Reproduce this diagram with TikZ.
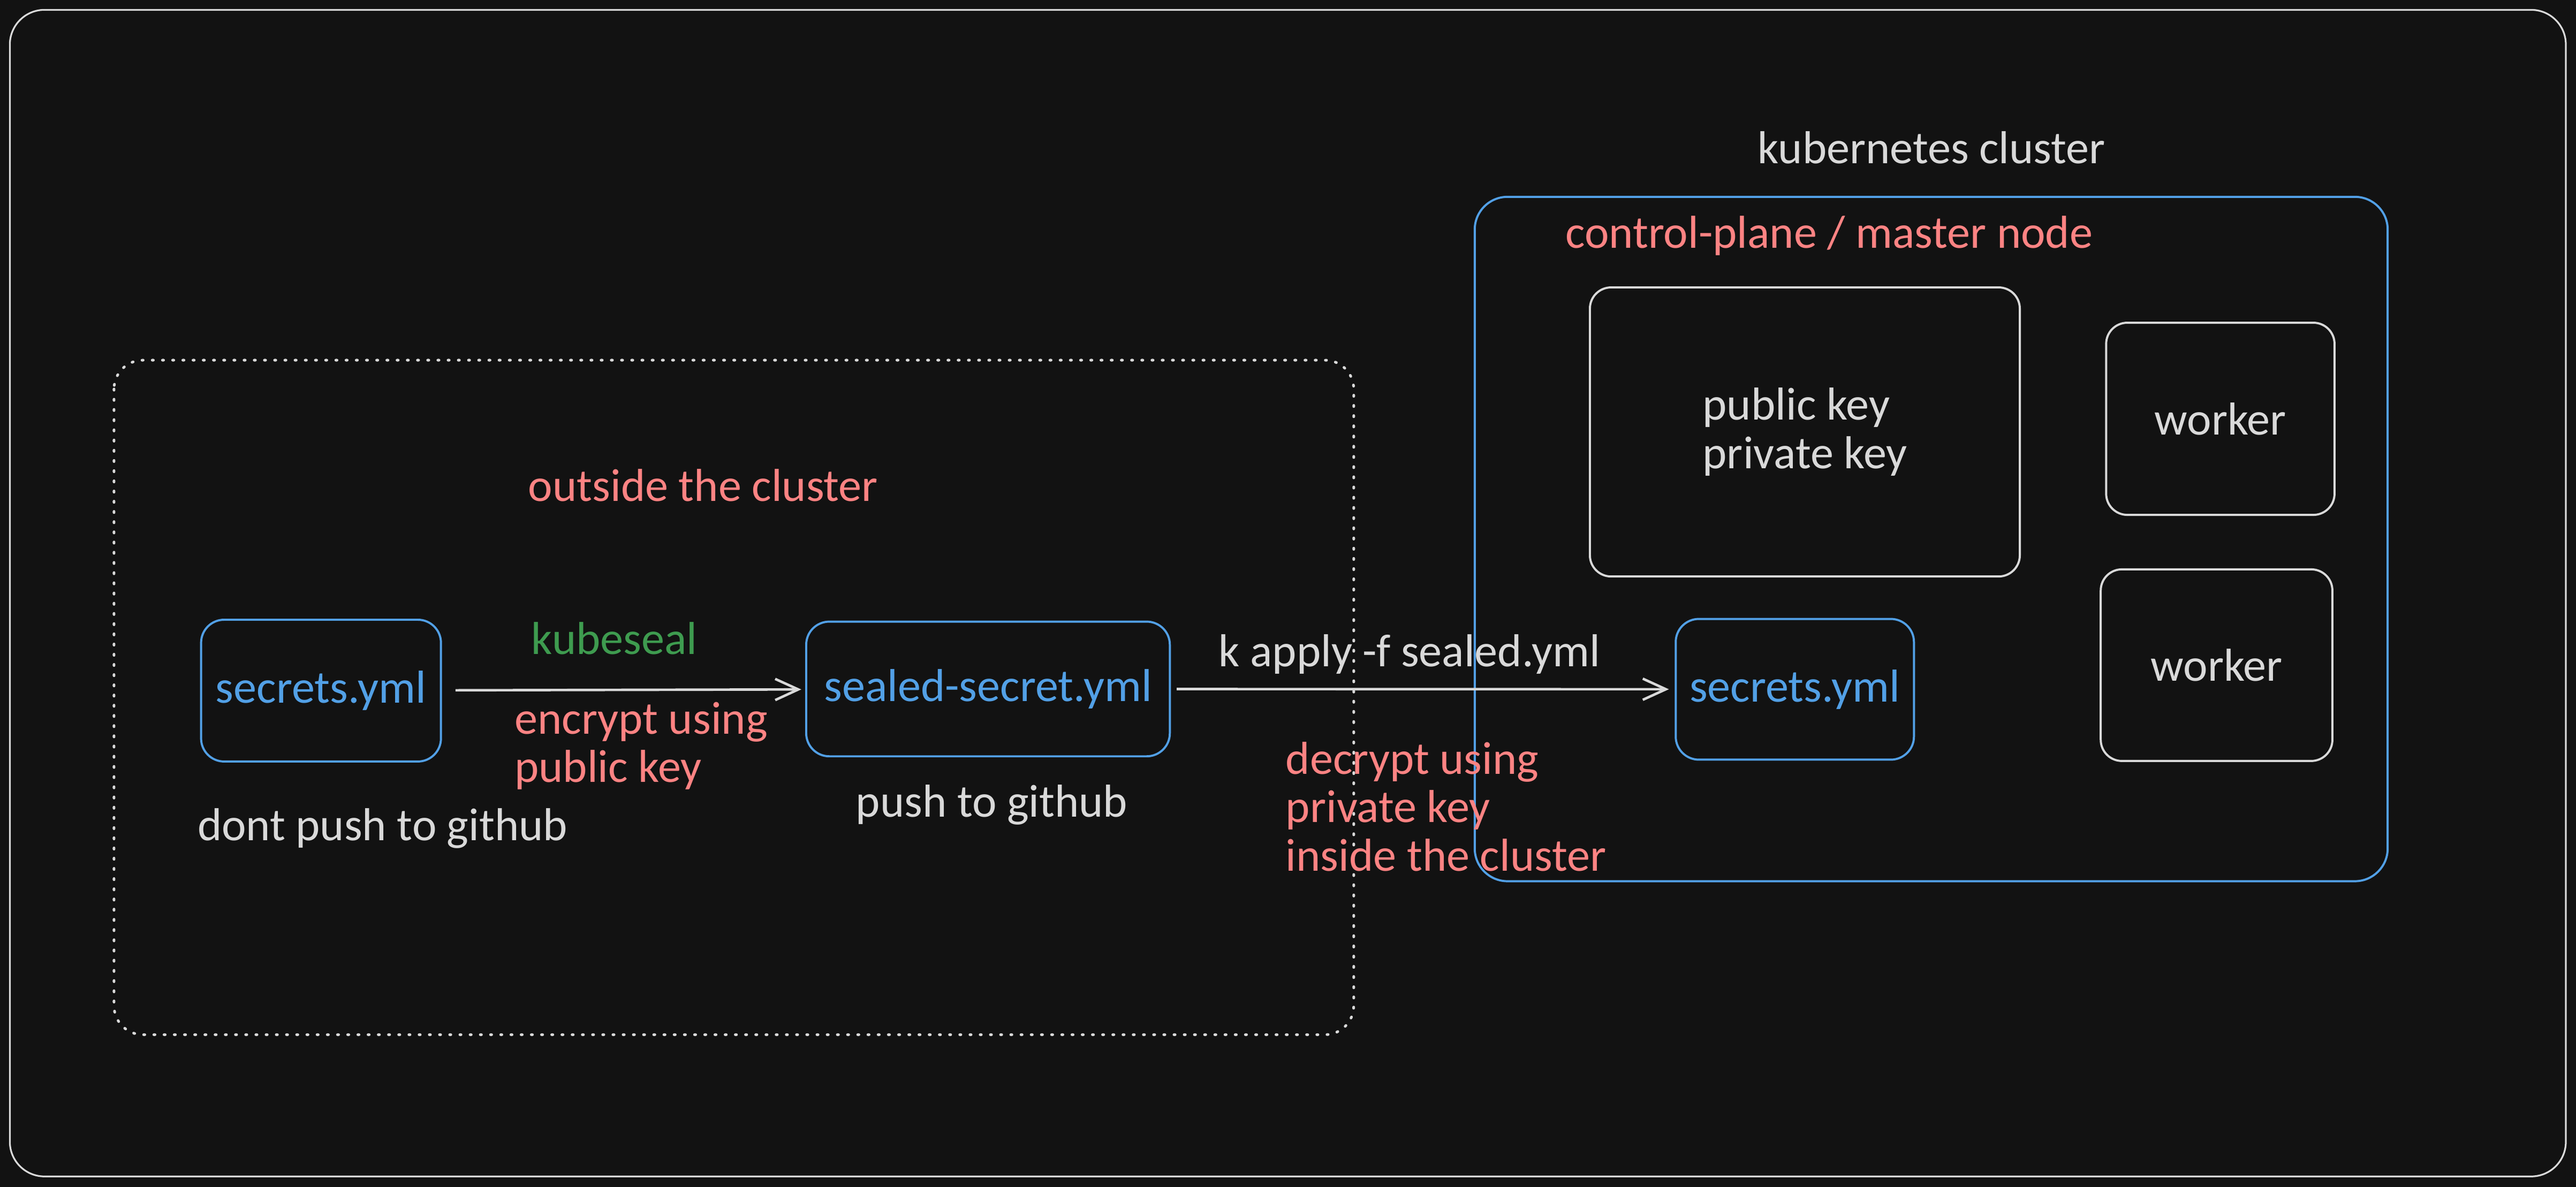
\documentclass[tikz,border=0pt]{standalone}
\usepackage{fontspec}
\setmainfont{Carlito}
\usetikzlibrary{arrows.meta}
\definecolor{bgcol}{HTML}{121212}
\definecolor{inkcol}{HTML}{D9D9D9}
\definecolor{bluecol}{HTML}{52A0E6}
\definecolor{redcol}{HTML}{FF8383}
\definecolor{greencol}{HTML}{3E9B4F}
\begin{document}
\begin{tikzpicture}[x=0.03cm,y=-0.03cm,
    txt/.style={inner sep=0pt,text=#1,font=\fontsize{24}{25.2}\selectfont},
    filebox/.style={draw=bluecol,line width=1.1pt,rounded corners=12pt,text=bluecol,font=\fontsize{24}{25.2}\selectfont},
    nodebox/.style={draw=inkcol,line width=1.1pt,rounded corners=11pt,text=inkcol,align=left,font=\fontsize{24}{25.2}\selectfont},
    flow/.style={draw=inkcol,line width=1.3pt,-{Straight Barb[length=12pt,width=11pt]}}]
      \useasboundingbox (0,0) rectangle (1568,722.7);
      \fill[bgcol] (0,0) rectangle (1568,722.7);
      \draw[inkcol,line width=0.9pt,rounded corners=18pt] (6,6) rectangle (1561.8,716.3);
      \draw[inkcol,line width=1.4pt,line cap=round,dash pattern=on 0.6pt off 4.7pt,rounded corners=15pt] (69.4,219.3) rectangle (824,630);
      \node[filebox,minimum width=4.38cm,minimum height=2.59cm] (secretsout) at (195.4,420.5) {secrets.yml};
      \node[filebox,minimum width=6.64cm,minimum height=2.46cm] (sealed) at (601.4,419.5) {sealed-secret.yml};
      \node[draw=bluecol,line width=1.1pt,rounded corners=17pt,minimum width=16.67cm,minimum height=12.5cm] (cluster) at (1175.5,328.2) {};
      \node[nodebox,minimum width=7.85cm,minimum height=5.28cm] (keys) at (1098.6,263) {public key\\private key};
      \node[nodebox,minimum width=4.17cm,minimum height=3.51cm] (workerA) at (1351.5,255) {worker};
      \node[nodebox,minimum width=4.23cm,minimum height=3.5cm] (workerB) at (1349.2,405) {worker};
      \node[filebox,minimum width=4.35cm,minimum height=2.57cm] (secretsin) at (1092.5,419.7) {secrets.yml};
      \draw[flow,shorten <=7pt,shorten >=2pt] (secretsout) -- (sealed);
      \draw[flow,shorten <=3pt,shorten >=3pt] (sealed) -- (secretsin);
      \node[txt=greencol,anchor=base] (kubeseal) at (374,398.5) {kubeseal};
      \node[txt=redcol,anchor=base west,align=left] (encrypt) at (313,476.3) {encrypt using\\public key};
      \node[txt=redcol,anchor=base] (outside) at (428,305.2) {outside the cluster};
      \node[txt=inkcol,anchor=base] (dontpush) at (232.9,511.7) {dont push to github};
      \node[txt=inkcol,anchor=base] (push) at (603.7,497.3) {push to github};
      \node[txt=inkcol,anchor=base] (apply) at (858,405.8) {k apply -f sealed.yml};
      \node[txt=redcol,anchor=base west,align=left] (decrypt) at (782.4,530.3) {decrypt using\\private key\\inside the cluster};
      \node[txt=inkcol,anchor=base] (clustername) at (1175.7,99.4) {kubernetes cluster};
      \node[txt=redcol,anchor=base west] (master) at (952.7,150.9) {control-plane / master node};
\end{tikzpicture}
\end{document}
